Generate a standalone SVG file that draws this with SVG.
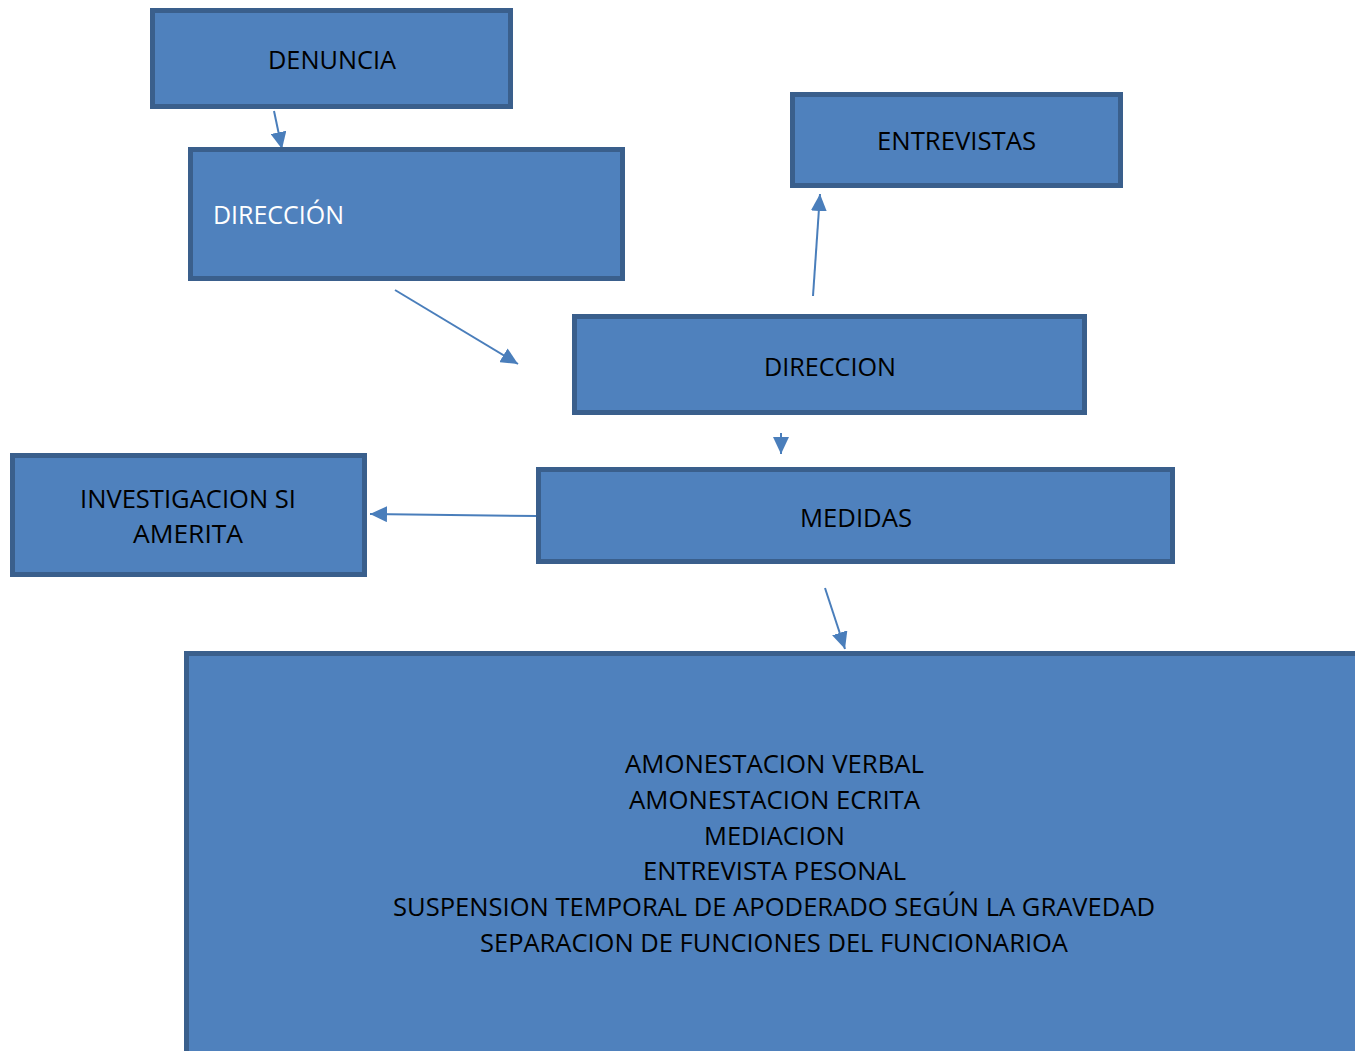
<svg xmlns="http://www.w3.org/2000/svg" width="1355" height="1051" viewBox="0 0 1355 1051">
<style>
.box{fill:#4F81BD;stroke:#3A5F8C;stroke-width:5}
.t{font-family:"Open Sans","Liberation Sans",sans-serif;font-size:26px;fill:#000}
.w{fill:#fff}
.c{stroke:#4A7EBB;stroke-width:2;fill:none}
</style>
<defs>
<marker id="ah" markerUnits="userSpaceOnUse" markerWidth="18" markerHeight="16" viewBox="0 0 18 16" refX="17" refY="8" orient="auto">
<path d="M0,0 L17,8 L0,16 Z" fill="#4A7EBB"/>
</marker>
</defs>
<rect width="1355" height="1051" fill="#fff"/>
<g id="connectors">
<line class="c" x1="274" y1="111" x2="282" y2="149" marker-end="url(#ah)"/>
<line class="c" x1="395" y1="290" x2="518" y2="364" marker-end="url(#ah)"/>
<line class="c" x1="813" y1="296" x2="820" y2="194" marker-end="url(#ah)"/>
<line class="c" x1="781" y1="433" x2="781" y2="454" marker-end="url(#ah)"/>
<line class="c" x1="537" y1="516" x2="370" y2="514" marker-end="url(#ah)"/>
<line class="c" x1="825" y1="588" x2="845" y2="649" marker-end="url(#ah)"/>
</g>
<g id="denuncia">
<rect class="box" x="152.5" y="10.5" width="358" height="96"/>
<text class="t" x="268" y="69" textLength="128" lengthAdjust="spacingAndGlyphs">DENUNCIA</text>
</g>
<g id="direccion1">
<rect class="box" x="190.5" y="149.5" width="432" height="129"/>
<text class="t w" x="213" y="224" textLength="131" lengthAdjust="spacingAndGlyphs">DIRECCIÓN</text>
</g>
<g id="entrevistas">
<rect class="box" x="792.5" y="94.5" width="328" height="91"/>
<text class="t" x="877" y="150" textLength="159" lengthAdjust="spacingAndGlyphs">ENTREVISTAS</text>
</g>
<g id="direccion2">
<rect class="box" x="574.5" y="316.5" width="510" height="96"/>
<text class="t" x="764" y="376" textLength="132" lengthAdjust="spacingAndGlyphs">DIRECCION</text>
</g>
<g id="medidas">
<rect class="box" x="538.5" y="469.5" width="634" height="92"/>
<text class="t" x="800" y="527" textLength="112" lengthAdjust="spacingAndGlyphs">MEDIDAS</text>
</g>
<g id="investigacion">
<rect class="box" x="12.5" y="455.5" width="352" height="119"/>
<text class="t" x="80" y="508" textLength="216" lengthAdjust="spacingAndGlyphs">INVESTIGACION SI</text>
<text class="t" x="133" y="543" textLength="110" lengthAdjust="spacingAndGlyphs">AMERITA</text>
</g>
<g id="acciones">
<rect class="box" x="186.5" y="653.5" width="1200" height="500"/>
<text class="t" x="625" y="773" textLength="299" lengthAdjust="spacingAndGlyphs">AMONESTACION VERBAL</text>
<text class="t" x="629" y="809" textLength="291" lengthAdjust="spacingAndGlyphs">AMONESTACION ECRITA</text>
<text class="t" x="704" y="845" textLength="141" lengthAdjust="spacingAndGlyphs">MEDIACION</text>
<text class="t" x="643" y="880" textLength="263" lengthAdjust="spacingAndGlyphs">ENTREVISTA PESONAL</text>
<text class="t" x="393" y="916" textLength="762" lengthAdjust="spacingAndGlyphs">SUSPENSION TEMPORAL DE APODERADO SEGÚN LA GRAVEDAD</text>
<text class="t" x="480" y="952" textLength="588" lengthAdjust="spacingAndGlyphs">SEPARACION DE FUNCIONES DEL FUNCIONARIOA</text>
</g>
</svg>
